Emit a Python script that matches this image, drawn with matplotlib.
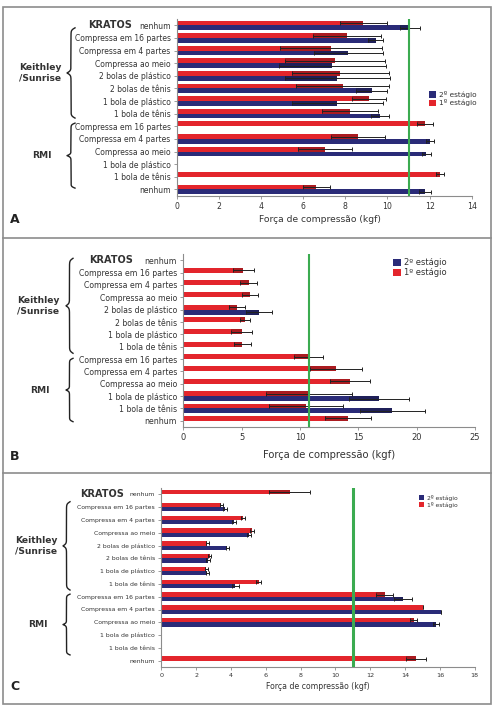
import numpy as np
import matplotlib.pyplot as plt
from matplotlib.patches import Patch, Rectangle
from matplotlib.lines import Line2D
from matplotlib.transforms import blended_transform_factory

nan = np.nan

categories = ['nenhum', 'Compressa em 16 partes', 'Compressa em 4 partes',
              'Compressa ao meio', '2 bolas de plástico', '2 bolas de tênis',
              '1 bola de plástico', '1 bola de tênis', 'Compressa em 16 partes',
              'Compressa em 4 partes', 'Compressa ao meio', '1 bola de plástico',
              '1 bola de tênis', 'nenhum']
legend_labels = ['2º estágio', '1º estágio']
xlabel = 'Força de compressão (kgf)'

# panel A
a_red = [8.85, 8.08, 7.31, 7.50, 7.77, 7.87, 9.13, 8.22, 11.78, 8.61, 7.03, nan, 12.49, 6.63]
a_red_sd = [1.12, 1.63, 2.42, 2.38, 2.31, 2.20, 0.80, 1.35, 0.36, 1.28, 1.27, nan, 0.18, 0.63]
a_blue = [11.07, 9.45, 8.14, 7.39, 7.62, 9.26, 7.62, 9.64, nan, 12.01, 11.85, nan, nan, 11.78]
a_blue_sd = [0.48, 0.35, 1.63, 2.55, 2.50, 0.73, 2.15, 0.44, nan, 0.18, 0.22, nan, nan, 0.30]

# panel B
b_red = [nan, 5.14, 5.60, 5.71, 4.63, 5.30, 5.00, 5.06, 10.75, 13.06, 14.28, 10.76, 10.51, 14.10]
b_red_sd = [nan, 0.91, 0.70, 0.66, 0.70, 0.42, 0.88, 0.75, 1.25, 2.23, 1.72, 3.67, 3.20, 1.95]
b_blue = [nan, nan, nan, nan, 6.49, nan, nan, nan, nan, nan, nan, 16.77, 17.91, nan]
b_blue_sd = [nan, nan, nan, nan, 1.14, nan, nan, nan, nan, nan, nan, 2.54, 2.80, nan]

# panel C
c_red = [7.37, 3.45, 4.69, 5.21, 2.64, 2.78, 2.59, 5.59, 12.83, 15.03, 14.51, nan, nan, 14.61]
c_red_sd = [1.19, 0.10, 0.12, 0.12, 0.10, 0.08, 0.07, 0.15, 0.48, 0.0, 0.20, nan, nan, 0.58]
c_blue = [nan, 3.64, 4.18, 5.02, 3.79, 2.68, 2.64, 4.25, 13.88, 16.05, 15.80, nan, nan, nan]
c_blue_sd = [nan, 0.12, 0.12, 0.12, 0.10, 0.10, 0.10, 0.20, 0.50, 0.0, 0.17, nan, nan, nan]

thresholds = [11.0, 10.8, 11.0]

RED = '#e3252c'
BLUE = '#2a2b78'
GREEN = '#3bab50'
GRAY = '#8c8c8c'

W, H = 496, 706
fig = plt.figure(figsize=(W / 100, H / 100), dpi=100)


def fx(px):
    return px / W


def fy(py):
    return 1 - py / H


def draw_brace(ax, y0, y1, x_base, width, beta=80):
    trans = blended_transform_factory(fig.transFigure, ax.transData)
    n = 301
    t = np.linspace(0, 1, n)
    half = t[:n // 2 + 1]
    hb = 1 / (1 + np.exp(-beta * (half - half[0]))) + 1 / (1 + np.exp(-beta * (half - half[-1])))
    h = np.concatenate((hb, hb[-2::-1]))
    xs = fx(x_base - (h - 0.5) * width)
    ys = y0 + t * (y1 - y0)
    ax.plot(xs, ys, color='#222222', lw=1.0, transform=trans, clip_on=False)


# panel layout (pixels of the reference)
panels = [
    dict(red=a_red, red_sd=a_red_sd, blue=a_blue, blue_sd=a_blue_sd, thr=thresholds[0],
         x0=176.8, x1=471.7, top=19.0, bottom=195.7, xmax=14, step=2, bh=0.38,
         fs=5.5, tfs=5.6, lfs=6.6, legfs=5.3, leg=(429, 91), glw=1.5,
         keith=(0.2, 7.35), rmi=(7.75, 12.9), bx=75, bw=8, gx=40, kx=110,
         xlab=(0.484, -0.132), letter=('A', 15, 220)),
    dict(red=b_red, red_sd=b_red_sd, blue=b_blue, blue_sd=b_blue_sd, thr=thresholds[1],
         x0=183.3, x1=475.0, top=254.1, bottom=427.0, xmax=25, step=5, bh=0.40,
         fs=5.6, tfs=6.0, lfs=7.2, legfs=6.0, leg=(393, 258), glw=1.5,
         keith=(-0.16, 7.53), rmi=(7.94, 13.07), bx=73, bw=7, gx=38, kx=111,
         xlab=(0.5, -0.162), letter=('B', 15, 457)),
    dict(red=c_red, red_sd=c_red_sd, blue=c_blue, blue_sd=c_blue_sd, thr=thresholds[2],
         x0=161.3, x1=474.7, top=487.9, bottom=667.1, xmax=18, step=2, bh=0.33,
         fs=4.4, tfs=4.6, lfs=5.6, legfs=4.3, leg=(419, 495), glw=2.2,
         keith=(0.58, 7.48), rmi=(7.8, 12.55), bx=70, bw=7, gx=36, kx=102,
         xlab=(0.5, -0.111), letter=('C', 15, 687)),
]

y = np.arange(len(categories))

for p in panels:
    ax = fig.add_axes([fx(p['x0']), fy(p['bottom']), (p['x1'] - p['x0']) / W,
                       (p['bottom'] - p['top']) / H])
    h = p['bh']
    for vals, sds, col, off in [(p['red'], p['red_sd'], RED, -h / 2),
                                (p['blue'], p['blue_sd'], BLUE, h / 2)]:
        vals = np.array(vals, float)
        sds = np.array(sds, float)
        m = ~np.isnan(vals)
        ax.barh(y[m] + off, vals[m], height=h, color=col, edgecolor='none', zorder=2)
        # darker band between mean - sd and mean
        ax.barh(y[m] + off, sds[m], left=vals[m] - sds[m], height=h, color='black',
                alpha=0.25, edgecolor='none', zorder=3)
        ax.errorbar(vals[m], y[m] + off, xerr=sds[m], fmt='none', ecolor='#222222',
                    elinewidth=0.7, capsize=1.5, capthick=0.7, zorder=4)

    ax.axvline(p['thr'], color=GREEN, lw=p['glw'], zorder=5)

    ax.set_xlim(0, p['xmax'])
    ax.set_xticks(np.arange(0, p['xmax'] + 0.1, p['step']))
    ax.set_ylim(13.5, -0.5)
    ax.set_yticks(y)
    ax.set_yticklabels(categories, fontsize=p['fs'], color='#333333')
    ax.tick_params(axis='x', labelsize=p['tfs'], labelcolor='#333333')
    ax.tick_params(axis='both', length=2.5, width=0.6, color=GRAY, pad=2)
    for s in ['top', 'right']:
        ax.spines[s].set_visible(False)
    for s in ['left', 'bottom']:
        ax.spines[s].set_color(GRAY)
        ax.spines[s].set_linewidth(0.8)

    ax.set_xlabel(xlabel, fontsize=p['lfs'], color='#333333')
    ax.xaxis.set_label_coords(*p['xlab'])
    ax.xaxis.label.set_va('center')

    # group braces and labels
    draw_brace(ax, p['keith'][0], p['keith'][1], p['bx'], p['bw'])
    draw_brace(ax, p['rmi'][0], p['rmi'][1], p['bx'], p['bw'])
    trans = blended_transform_factory(fig.transFigure, ax.transData)
    ax.text(fx(p['gx']), sum(p['keith']) / 2, 'Keithley\n/Sunrise', transform=trans,
            ha='center', va='center', fontsize=6.6, fontweight='bold', color='#333333',
            linespacing=1.15)
    ax.text(fx(p['gx'] + 2), sum(p['rmi']) / 2, 'RMI', transform=trans, ha='center',
            va='center', fontsize=6.6, fontweight='bold', color='#333333')
    ax.text(fx(p['kx']), 0, 'KRATOS', transform=trans, ha='center', va='center',
            fontsize=7, fontweight='bold', color='#333333')

    handles = [Patch(facecolor=BLUE, edgecolor='none'), Patch(facecolor=RED, edgecolor='none')]
    ax.legend(handles, legend_labels, loc='upper left',
              bbox_to_anchor=(fx(p['leg'][0]), fy(p['leg'][1])), bbox_transform=fig.transFigure,
              frameon=False, fontsize=p['legfs'], handlelength=0.9, handleheight=0.9,
              handletextpad=0.4, borderpad=0, borderaxespad=0, labelspacing=0.15,
              labelcolor='#333333')

    letter, lx, ly = p['letter']
    fig.text(fx(lx), fy(ly), letter, fontsize=9, fontweight='bold', ha='center',
             va='center', color='#222222')

# outer frame and panel separators
fig.add_artist(Rectangle((fx(3), fy(704)), (491 - 3) / W, (704 - 7) / H,
                         transform=fig.transFigure, fill=False, edgecolor=GRAY, lw=1.2))
for py in [237.5, 472.5]:
    fig.add_artist(Line2D([fx(3), fx(491)], [fy(py), fy(py)], transform=fig.transFigure,
                          color=GRAY, lw=1.2))

fig.savefig('out.png', dpi=100)
plt.close(fig)
